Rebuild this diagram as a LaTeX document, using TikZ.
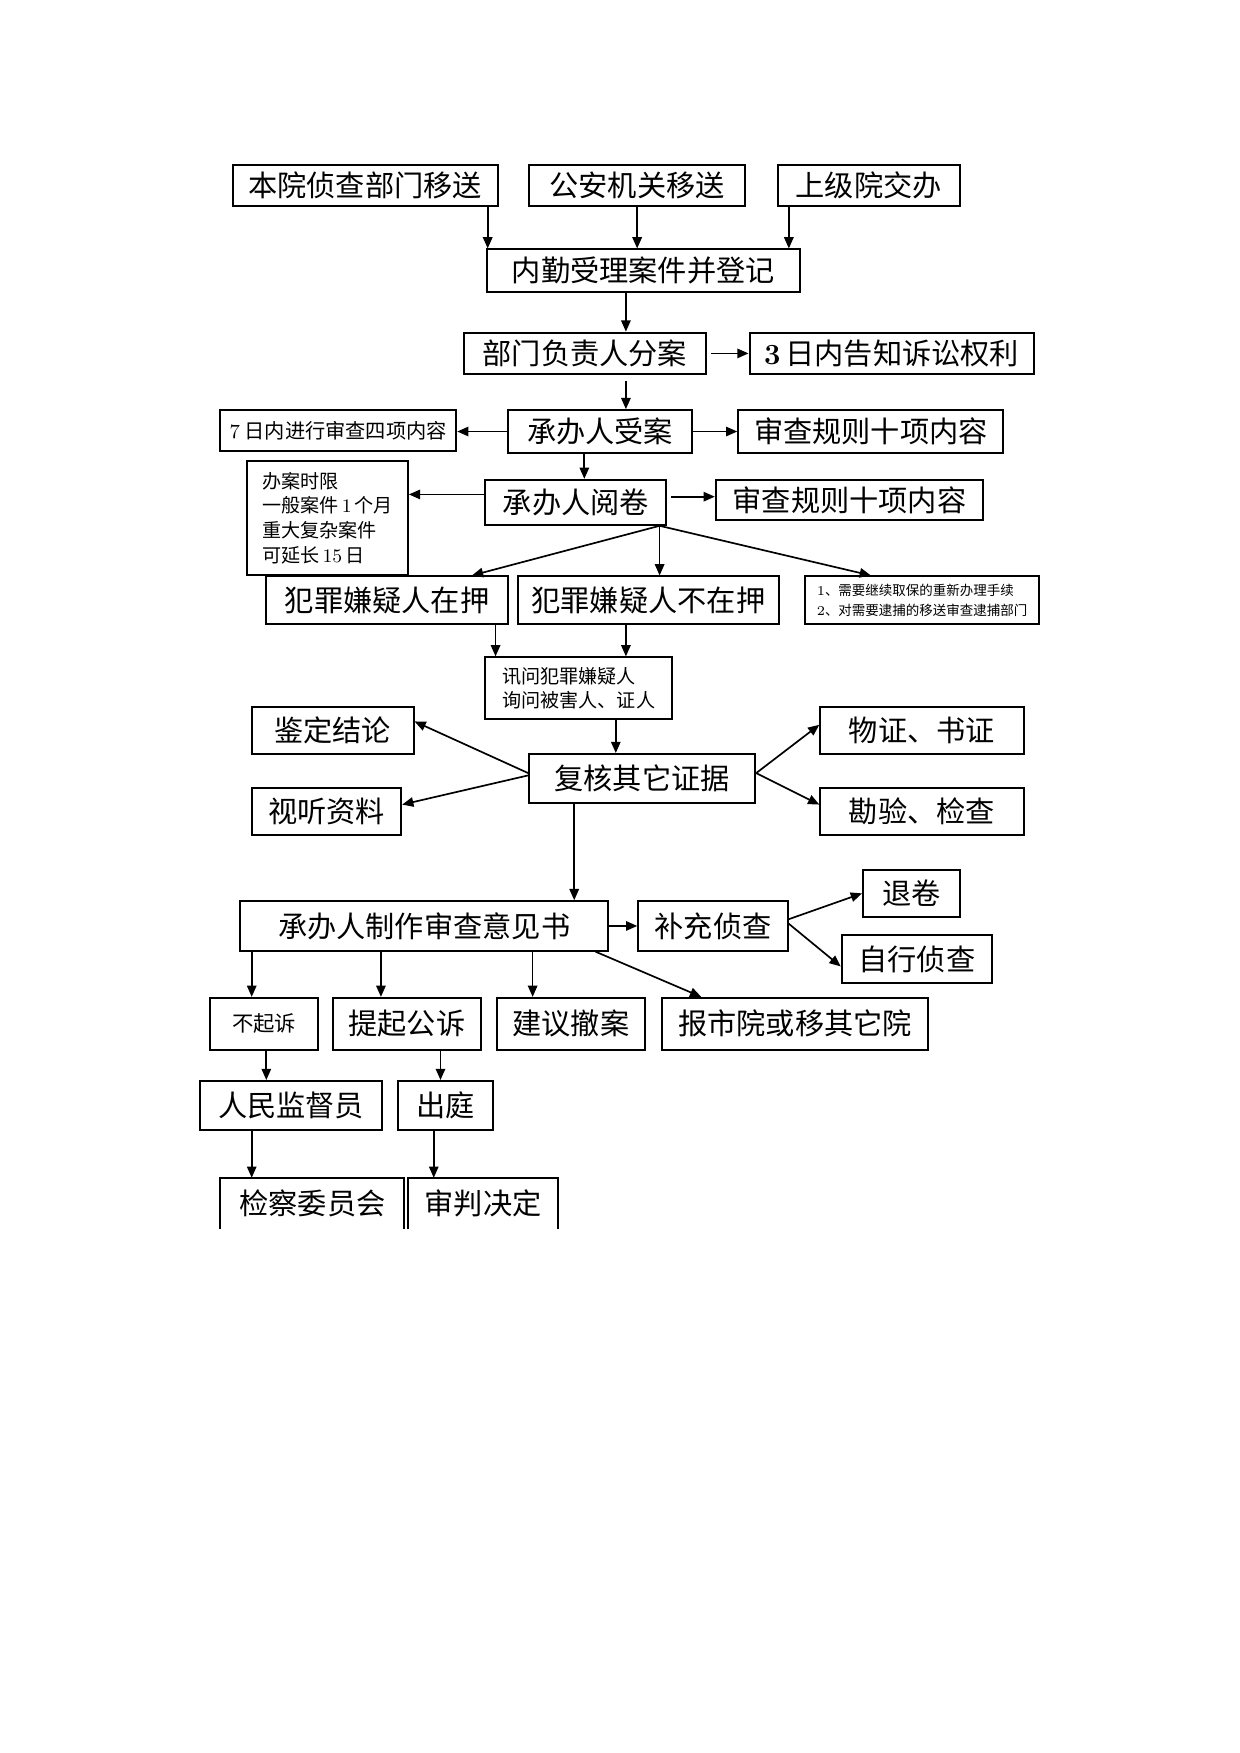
\documentclass[tikz,border=0pt]{standalone}
\usepackage{fontspec}
\newfontfamily\cjk{Noto Sans CJK SC}
\usetikzlibrary{arrows.meta}
\tikzset{
  box/.style={draw, line width=0.9pt, inner sep=0pt, font=\cjk\fontsize{13pt}{15pt}\selectfont},
  smallbox/.style={font=\cjk\fontsize{9pt}{11pt}\selectfont},
  tinybox/.style={font=\cjk\fontsize{8.5pt}{11pt}\selectfont, align=left},
  microbox/.style={font=\cjk\fontsize{6pt}{9pt}\selectfont, align=left},
  openbox/.style={draw=none},
  arr/.style={-{Triangle[length=5pt,width=4.2pt]}, line width=0.75pt},
}
\newcommand\bx[7][]{\node[box,#1,minimum width={(#5-#3)*0.5pt},minimum height={(#6-#4)*0.5pt}] (#2) at ({(#3+#5)/2},{(#4+#6)/2}) {#7};}
\begin{document}
\begin{tikzpicture}[x=0.5pt,y=-0.5pt]
\useasboundingbox (0,0) rectangle (1103,1560);
\bx{a1}{207}{147}{443}{183}{本院侦查部门移送}
\bx{a2}{471}{147}{663}{183}{公安机关移送}
\bx{a3}{692}{147}{854}{183}{上级院交办}
\bx{b}{433}{222}{712}{260}{内勤受理案件并登记}
\bx{c}{413}{296}{628}{333}{部门负责人分案}
\bx{c2}{667}{296}{920}{333}{{\rmfamily\bfseries 3}\,日内告知诉讼权利}
\bx{d}{452}{365}{616}{403}{承办人受案}
\bx[smallbox]{dl}{196}{365}{406}{401}{{\rmfamily 7} 日内进行审查四项内容}
\bx{dr}{657}{365}{893}{403}{审查规则十项内容}
\bx{e}{432}{427}{593}{467}{承办人阅卷}
\bx[tinybox]{el}{220}{410}{363}{512}{办案时限\\一般案件{\rmfamily\,1\,}个月\\重大复杂案件\\可延长{\rmfamily\,15\,}日}
\bx{er}{637}{427}{875}{463}{审查规则十项内容}
\bx{f1}{237}{513}{452}{555}{犯罪嫌疑人在押}
\bx{f2}{461}{513}{693}{555}{犯罪嫌疑人不在押}
\bx[microbox]{f3}{716}{513}{925}{555}{{\rmfamily 1}、需要继续取保的重新办理手续\\{\rmfamily 2}、对需要逮捕的移送审查逮捕部门}
\bx[tinybox]{g}{432}{585}{598}{640}{讯问犯罪嫌疑人\\询问被害人、证人}
\bx{h}{471}{671}{672}{715}{复核其它证据}
\bx{h1}{224}{629}{368}{671}{鉴定结论}
\bx{h2}{224}{701}{357}{743}{视听资料}
\bx{h3}{730}{629}{911}{671}{物证、书证}
\bx{h4}{730}{701}{911}{743}{勘验、检查}
\bx{i}{214}{802}{541}{846}{承办人制作审查意见书}
\bx{j}{568}{802}{701}{846}{补充侦查}
\bx{j1}{768}{774}{854}{816}{退卷}
\bx{j2}{749}{832}{883}{875}{自行侦查}
\bx[font=\cjk\fontsize{9.5pt}{11pt}\selectfont]{k1}{187}{888}{283}{934}{不起诉}
\bx{k2}{296}{888}{428}{934}{提起公诉}
\bx{k3}{442}{888}{574}{934}{建议撤案}
\bx{k4}{589}{888}{826}{934}{报市院或移其它院}
\bx{l1}{178}{962}{340}{1006}{人民监督员}
\bx{l2}{354}{962}{439}{1006}{出庭}
\bx[openbox]{m1}{197}{1049}{359}{1093}{检察委员会}
\bx[openbox]{m2}{364}{1049}{496}{1093}{审判决定}
\draw[line width=0.9pt] (m1.south west) |- (m1.north east) -- (m1.south east);
\draw[line width=0.9pt] (m2.south west) |- (m2.north east) -- (m2.south east);
% connectors
\draw[arr] (434,0 |- a1.south) -- (434,0 |- b.north);
\draw[arr] (567,0 |- a2.south) -- (567,0 |- b.north);
\draw[arr] (702,0 |- a3.south) -- (702,0 |- b.north);
\draw[arr] (557,0 |- b.south) -- (557,0 |- c.north);
\draw[arr, shorten <=2pt] (c.east) -- (c.east -| c2.west);
\draw[arr, shorten <=2.5pt] (557,0 |- c.south) -- (557,0 |- d.north);
\draw[arr] (d.west) -- (d.west -| dl.east);
\draw[arr] (d.east) -- (d.east -| dr.west);
\draw[arr] (520,0 |- d.south) -- (520,0 |- e.north);
\draw[arr] (e.west |- 0,440) -- (el.east |- 0,440);
\draw[arr, shorten <=1.5pt] (e.east |- 0,442) -- (er.west |- 0,442);
\draw[arr] (587,0 |- e.south) -- (420,0 |- f1.north);
\draw[arr] (587,0 |- e.south) -- (587,0 |- f2.north);
\draw[arr] (587,0 |- e.south) -- (775,0 |- f3.north);
\draw[arr] (441,0 |- f1.south) -- (441,0 |- g.north);
\draw[arr] (557,0 |- f2.south) -- (557,0 |- g.north);
\draw[arr] (548,0 |- g.south) -- (548,0 |- h.north);
\draw[arr] (h.west |- 0,688) -- (h1.east |- 0,642);
\draw[arr] (h.west |- 0,690) -- (h2.east |- 0,716);
\draw[arr] (h.east |- 0,688) -- (h3.west |- 0,645);
\draw[arr] (h.east |- 0,688) -- (h4.west |- 0,716);
\draw[arr] (511,0 |- h.south) -- (511,0 |- i.north);
\draw[arr] (i.east) -- (i.east -| j.west);
\draw[arr] (j.east |- 0,818) -- (j1.west |- 0,795);
\draw[arr] (j.east |- 0,822) -- (j2.west |- 0,860);
\draw[arr] (224,0 |- i.south) -- (224,0 |- k1.north);
\draw[arr] (339,0 |- i.south) -- (339,0 |- k2.north);
\draw[arr] (474,0 |- i.south) -- (474,0 |- k3.north);
\draw[arr] (530,0 |- i.south) -- (624,0 |- k4.north);
\draw[arr] (237,0 |- k1.south) -- (237,0 |- l1.north);
\draw[arr] (392,0 |- k2.south) -- (392,0 |- l2.north);
\draw[arr] (224,0 |- l1.south) -- (224,0 |- m1.north);
\draw[arr] (386,0 |- l2.south) -- (386,0 |- m2.north);
\end{tikzpicture}
\end{document}
